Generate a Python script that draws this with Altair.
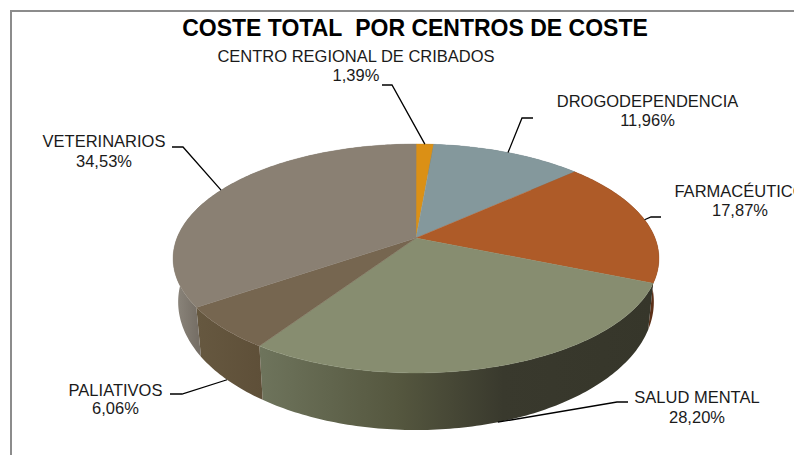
import math
import altair as alt

names = ["CENTRO REGIONAL DE CRIBADOS", "DROGODEPENDENCIA", "FARMACÉUTICO",
         "SALUD MENTAL", "PALIATIVOS", "VETERINARIOS"]
shares = [1.39, 11.96, 17.87, 28.20, 6.06, 34.53]
top_colors = ["#DB9015", "#84989C", "#AE5B28", "#878D70", "#766650", "#8A8073"]
TITLE = "COSTE TOTAL\u00a0 POR CENTROS DE COSTE"

# page margin offset and perspective parameters of the tilted disc
OFF = 8
TOP = dict(x0=416, y0=238, kx=239, ky=110.8)
BOT = dict(x0=416, y0=279, kx=234, ky=124)
C = 0.179


def project(frac, plane):
    t = 2 * math.pi * frac / 100
    u, v = math.sin(t), math.cos(t)
    w = 1 + C * v
    return [plane["x0"] + plane["kx"] * u / w - OFF, plane["y0"] - plane["ky"] * v / w - OFF]


def arc(a, b, plane):
    n = max(4, int((b - a) * 4))
    return [project(a + (b - a) * i / n, plane) for i in range(n + 1)]


def feature(geom_type, coords):
    return {"type": "Feature", "properties": {}, "geometry": {"type": geom_type, "coordinates": coords}}


def geo(features):
    return alt.Data(values=features)


PROJ = dict(type="identity", scale=1, translate=[0, 0])

starts = [sum(shares[:i]) for i in range(len(shares))]
ends = [s + v for s, v in zip(starts, shares)]


def stops(*pairs):
    return [alt.GradientStop(offset=o, color=c) for o, c in pairs]


side_fills = [
    "#6b5a20", "#5f6c70", "#5C3018",
    alt.Gradient(gradient="linear", x1=0, x2=1, y1=0, y2=0,
                 stops=stops((0, "#6E745C"), (0.35, "#55573F"), (0.62, "#39392D"), (1, "#36362A"))),
    alt.Gradient(gradient="linear", x1=0, x2=1, y1=0, y2=0,
                 stops=stops((0, "#665840"), (1, "#5E4F38"))),
    alt.Gradient(gradient="linear", x1=0, x2=1, y1=0, y2=0,
                 stops=stops((0, "#8E887E"), (0.1, "#766F66"), (1, "#766F66"))),
]

layers = []
# frame (only top and left edges fall inside the picture)
FRAME = [[[3, 447], [3, 3], [786, 3]]]
layers.append(alt.Chart(geo([feature("MultiLineString", FRAME)])).mark_geoshape(
    filled=False, stroke="#8C8C8C", strokeWidth=2).project(**PROJ))

# side walls
for a, b, fill in zip(starts, ends, side_fills):
    ring = arc(a, b, TOP) + arc(a, b, BOT)[::-1]
    ring.append(ring[0])
    layers.append(alt.Chart(geo([feature("Polygon", [ring])])).mark_geoshape(
        fill=fill, strokeWidth=0).project(**PROJ))

# top face
apex = [TOP["x0"] - OFF, TOP["y0"] - OFF]
for a, b, col in zip(starts, ends, top_colors):
    ring = [apex] + arc(a, b, TOP) + [apex]
    layers.append(alt.Chart(geo([feature("Polygon", [ring])])).mark_geoshape(
        fill=col, stroke=col, strokeWidth=0.4).project(**PROJ))

# leader lines: elbow anchors near each label, ending at the slice's mid angle
ELBOWS = [[[382, 85], [392, 85]], [[533, 118], [522, 118]], [[661, 217], [651, 217]],
          [[628, 402], [617, 402]], [[170, 394], [182, 394]], [[172, 147], [183, 147]]]
RIM = [TOP, TOP, TOP, BOT, BOT, TOP]
leaders = []
for a, b, elbow, plane in zip(starts, ends, ELBOWS, RIM):
    pts = [[x - OFF, y - OFF] for x, y in elbow] + [project((a + b) / 2, plane)]
    leaders.append(pts)
layers.append(alt.Chart(geo([feature("MultiLineString", leaders)])).mark_geoshape(
    filled=False, stroke="#000000", strokeWidth=1.3).project(**PROJ))

# labels
LABEL_POS = [(356, 57, 76), (647.5, 102, 121), (740, 192, 211), (697, 398, 418), (115.5, 391, 409), (104, 142, 162)]
rows = []
for name, v, (x, y1, y2) in zip(names, shares, LABEL_POS):
    rows.append({"t": name, "px": x - OFF, "py": y1 - OFF})
    rows.append({"t": f"{v:.2f}".replace(".", ",") + "%", "px": x - OFF, "py": y2 - OFF})
layers.append(alt.Chart(alt.Data(values=rows)).mark_text(
    font="Liberation Sans", fontSize=16.5, color="#1a1a1a", align="center", baseline="middle").encode(
    x=alt.X("px:Q", scale=None, axis=None), y=alt.Y("py:Q", scale=None, axis=None), text="t:N"))

layers.append(alt.Chart(alt.Data(values=[{"t": TITLE, "px": 415 - OFF, "py": 29 - OFF}])).mark_text(
    font="Liberation Sans", fontSize=23, fontWeight="bold", color="#000000", align="center", baseline="middle").encode(
    x=alt.X("px:Q", scale=None, axis=None), y=alt.Y("py:Q", scale=None, axis=None), text="t:N"))

chart = alt.layer(*layers).properties(width=786, height=447, padding=0, autosize=alt.AutoSizeParams(type="none"),
                                      background="#FFFFFF").configure_view(stroke=None)
chart.save("out.html", embed_options={"renderer": "svg", "actions": False})
